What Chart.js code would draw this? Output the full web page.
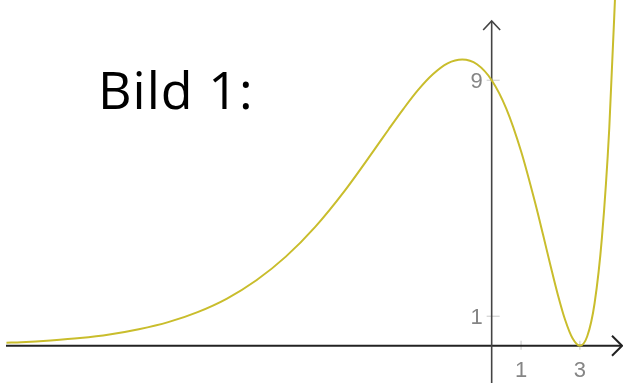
<!DOCTYPE html>
<html>
<head>
<meta charset="utf-8">
<script src="https://cdn.jsdelivr.net/npm/chart.js@4.4.0/dist/chart.umd.min.js"></script>
<style>
  html, body { margin: 0; padding: 0; background: #fff; }
  #wrap { width: 623px; height: 383px; position: relative; }
</style>
</head>
<body>
<div id="wrap"><canvas id="graph"></canvas></div>
<script>
// values
const curveX = [-16.5, -16, -15, -14, -13, -12, -11, -10, -9, -8, -7, -6, -5, -4, -3.5, -3, -2.5, -2, -1.5, -1, -0.5, 0, 0.5, 1, 1.5, 1.75, 2, 2.25, 2.5, 2.75, 3, 3.25, 3.5, 3.75, 4, 4.25];
const curveY = [0.10, 0.12, 0.18, 0.26, 0.38, 0.56, 0.80, 1.14, 1.60, 2.22, 3.02, 4.03, 5.25, 6.63, 7.34, 8.03, 8.67, 9.20, 9.57, 9.70, 9.54, 9.00, 8.03, 6.59, 4.76, 3.75, 2.72, 1.73, 0.87, 0.25, 0, 0.32, 1.44, 3.67, 7.39, 13.1];
const xTicks = [1, 3];
const yTicks = [1, 9];
const caption = 'Bild 1:';

const axesPlugin = {
  id: 'axes',
  beforeDatasetsDraw(chart) {
    const { ctx, scales: { x, y } } = chart;
    const x0 = x.getPixelForValue(0), y0 = y.getPixelForValue(0);
    ctx.save();
    // tick marks
    ctx.strokeStyle = '#c8c8c8';
    ctx.lineWidth = 1;
    xTicks.forEach(v => {
      const px = x.getPixelForValue(v);
      ctx.beginPath(); ctx.moveTo(px, y0 - 5); ctx.lineTo(px, y0 + 4); ctx.stroke();
    });
    yTicks.forEach(v => {
      const py = y.getPixelForValue(v);
      ctx.beginPath(); ctx.moveTo(x0 - 5, py); ctx.lineTo(x0 + 8, py); ctx.stroke();
    });
    // axes
    ctx.strokeStyle = '#222';
    ctx.lineWidth = 2;
    ctx.beginPath(); ctx.moveTo(6, y0); ctx.lineTo(622, y0); ctx.stroke();
    ctx.beginPath(); ctx.moveTo(612, y0 - 10); ctx.lineTo(622, y0); ctx.lineTo(612, y0 + 10); ctx.stroke();
    ctx.strokeStyle = '#444';
    ctx.lineWidth = 1.6;
    ctx.beginPath(); ctx.moveTo(x0, 383); ctx.lineTo(x0, 21); ctx.stroke();
    ctx.beginPath(); ctx.moveTo(x0 - 8.5, 30); ctx.lineTo(x0, 21); ctx.lineTo(x0 + 8.5, 30); ctx.stroke();
    // tick labels
    ctx.fillStyle = '#858585';
    ctx.font = '22px "Liberation Sans", sans-serif';
    ctx.textAlign = 'center';
    ctx.textBaseline = 'alphabetic';
    xTicks.forEach(v => ctx.fillText(String(v), x.getPixelForValue(v), y0 + 31));
    yTicks.forEach(v => ctx.fillText(String(v), x0 - 15, y.getPixelForValue(v) + 8));
    ctx.restore();
  },
  afterDraw(chart) {
    const { ctx } = chart;
    ctx.save();
    ctx.fillStyle = '#000';
    ctx.font = '52px "Open Sans", sans-serif';
    ctx.letterSpacing = '1px';
    ctx.textBaseline = 'alphabetic';
    ctx.fillText(caption, 98, 109);
    ctx.restore();
  }
};

new Chart(document.getElementById('graph'), {
  type: 'scatter',
  data: {
    datasets: [{
      data: curveX.map((v, k) => ({ x: v, y: curveY[k] })),
      showLine: true,
      borderColor: '#c9bd2c',
      borderWidth: 2,
      pointRadius: 0,
      cubicInterpolationMode: 'monotone',
      clip: false
    }]
  },
  options: {
    responsive: true,
    maintainAspectRatio: false,
    animation: false,
    layout: { padding: 0 },
    plugins: { legend: { display: false }, tooltip: { enabled: false } },
    scales: {
      x: { type: 'linear', display: false, min: -16.72, max: 4.466 },
      y: { type: 'linear', display: false, min: -1.264, max: 11.72 }
    }
  },
  plugins: [axesPlugin]
});
</script>
</body>
</html>
